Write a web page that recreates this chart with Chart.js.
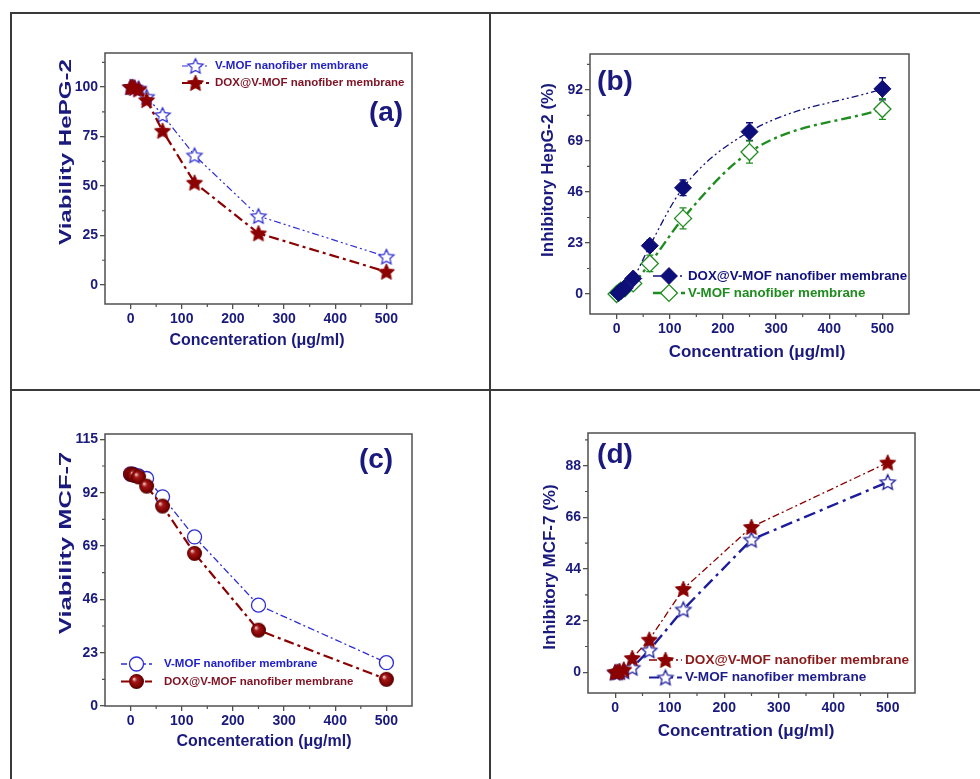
<!DOCTYPE html>
<html>
<head>
<meta charset="utf-8">
<title>Cytotoxicity of V-MOF nanofiber membranes</title>
<script src="https://cdn.jsdelivr.net/npm/chart.js@4.4.1/dist/chart.umd.min.js"></script>
<style>
  body { margin: 0; background: #fff; width: 980px; height: 779px; position: relative; overflow: hidden; }
  canvas.panel { position: absolute; }
  .rule { position: absolute; background: #3a3a3a; }
</style>
</head>
<body>
<canvas id="chartA" class="panel" width="480" height="378" style="left:10px;top:12px"></canvas>
<canvas id="chartB" class="panel" width="490" height="378" style="left:490px;top:12px"></canvas>
<canvas id="chartC" class="panel" width="480" height="389" style="left:10px;top:390px"></canvas>
<canvas id="chartD" class="panel" width="490" height="389" style="left:490px;top:390px"></canvas>

<div class="rule" style="left:10px;top:12px;width:970px;height:1.5px"></div>
<div class="rule" style="left:10px;top:12px;width:1.5px;height:767px"></div>
<div class="rule" style="left:489px;top:12px;width:1.5px;height:767px"></div>
<div class="rule" style="left:10px;top:389px;width:970px;height:1.5px"></div>

<script>
// concentrations (µg/ml) used for every assay
const conc = [0, 3.9, 7.8, 15.6, 31.25, 62.5, 125, 250, 500];

// (a) viability HepG-2
const viaHepVmof = [100, 100, 99.8, 99.3, 95.1, 85.9, 65.5, 34.8, 14.3];
const viaHepDox  = [100, 100, 99.6, 98.8, 93.4, 77.9, 51.7, 26.1, 6.7];

// (b) inhibition HepG-2 with error bars
const inhHepDox     = [null, 0.5, 1.2, 2.8, 7.0, 21.8, 47.9, 73.2, 92.5];
const inhHepDoxErr  = [0, 1.5, 1.5, 1.5, 1.5, 2.5, 3.5, 4.0, 5.0];
const inhHepVmof    = [0, 0.6, 1.5, 2.6, 4.8, 13.8, 34.1, 64.0, 83.4];
const inhHepVmofErr = [0, 1.0, 1.0, 1.0, 1.5, 3.7, 4.7, 5.0, 4.7];

// (c) viability MCF-7
const viaMcfVmof = [100, 100, 99.6, 99.2, 98.1, 90.2, 72.9, 43.5, 18.7];
const viaMcfDox  = [100, 99.8, 99.5, 98.8, 94.8, 86.2, 65.8, 32.7, 11.5];

// (d) inhibition MCF-7
const inhMcfDox  = [0, 0.2, 0.5, 1.2, 6.1, 13.9, 35.5, 61.9, 89.3];
const inhMcfVmof = [0, 0, 0.2, 0.5, 2.0, 9.4, 26.8, 56.5, 81.0];

// tick labels
const xTicks = [0, 100, 200, 300, 400, 500];
const xMinor = [50, 150, 250, 350, 450];
const yTicksA = [0, 25, 50, 75, 100];
const yMinorA = [12.5, 37.5, 62.5, 87.5, 112.5];
const yTicksB = [0, 23, 46, 69, 92];
const yMinorB = [11.5, 34.5, 57.5, 80.5, 103.5];
const yTicksC = [0, 23, 46, 69, 92, 115];
const yMinorC = [11.5, 34.5, 57.5, 80.5, 103.5];
const yTicksD = [0, 22, 44, 66, 88];
const yMinorD = [11, 33, 55, 77, 99];

const nameVmof = 'V-MOF nanofiber membrane';
const nameDox = 'DOX@V-MOF nanofiber membrane';

const FONT = '"Liberation Sans", Arial, Helvetica, sans-serif';
const NAVY = '#1a1a7e';
const BLUE = '#2d2dd2';
const DBLUE = '#1c1c9c';
const RED = '#8b0000';
const REDTXT = '#7e1224';
const GREEN = '#1f8c1f';
const FRAME = '#505050';

// five-pointed star marker rendered once into a small canvas
function starImage(R, fill, stroke, lw) {
  const size = Math.ceil(2 * R + lw + 2);
  const c = document.createElement('canvas');
  c.width = size; c.height = size;
  const g = c.getContext('2d');
  const cx = size / 2, cy = size / 2 + R * 0.08, r = R * 0.47;
  g.beginPath();
  for (let i = 0; i < 10; i++) {
    const rad = i % 2 ? r : R;
    const a = -Math.PI / 2 + i * Math.PI / 5;
    const px = cx + rad * Math.cos(a), py = cy + rad * Math.sin(a);
    i ? g.lineTo(px, py) : g.moveTo(px, py);
  }
  g.closePath();
  g.fillStyle = fill; g.fill();
  g.lineWidth = lw; g.strokeStyle = stroke; g.lineJoin = 'miter'; g.stroke();
  return c;
}

// shaded ball marker
function ballImage(R) {
  const size = Math.ceil(2 * R + 2);
  const c = document.createElement('canvas');
  c.width = size; c.height = size;
  const g = c.getContext('2d');
  const cx = size / 2, cy = size / 2;
  const grad = g.createRadialGradient(cx - R * 0.35, cy - R * 0.35, R * 0.05, cx, cy, R);
  grad.addColorStop(0, '#f0c8c8');
  grad.addColorStop(0.3, '#a31818');
  grad.addColorStop(0.8, '#7a0000');
  grad.addColorStop(1, '#4a0000');
  g.beginPath(); g.arc(cx, cy, R, 0, Math.PI * 2);
  g.fillStyle = grad; g.fill();
  return c;
}

const mkStarOpenBlue = { type: 'image', img: starImage(8, '#fff', BLUE, 1.2) };
const mkStarRed = { type: 'image', img: starImage(8.5, RED, RED, 1) };
const mkStarOpenNavy = { type: 'image', img: starImage(8, '#fff', DBLUE, 1.3) };
const mkBall = { type: 'image', img: ballImage(7.5) };
const mkCircleOpen = { type: 'circle', r: 7, fill: '#fff', stroke: BLUE, lw: 1.3 };
const mkDiamondNavy = { type: 'rectRot', r: 8.5, fill: '#0e0e78', stroke: '#0e0e78', lw: 1 };
const mkDiamondOpen = { type: 'rectRot', r: 8.5, fill: '#fff', stroke: GREEN, lw: 1.3 };

function pointOpts(m) {
  if (m.type === 'image') {
    return { pointStyle: m.img, pointRadius: m.img.width / 2 };
  }
  return {
    pointStyle: m.type, pointRadius: m.r,
    pointBackgroundColor: m.fill, pointBorderColor: m.stroke, pointBorderWidth: m.lw
  };
}

function drawMarker(ctx, m, x, y) {
  ctx.save();
  ctx.setLineDash([]);
  if (m.type === 'image') {
    ctx.drawImage(m.img, x - m.img.width / 2, y - m.img.height / 2);
  } else {
    ctx.beginPath();
    if (m.type === 'circle') {
      ctx.arc(x, y, m.r, 0, Math.PI * 2);
    } else {
      const d = m.r * Math.SQRT1_2 * 1.4;
      ctx.moveTo(x, y - d); ctx.lineTo(x + d, y); ctx.lineTo(x, y + d); ctx.lineTo(x - d, y);
      ctx.closePath();
    }
    ctx.fillStyle = m.fill; ctx.fill();
    ctx.lineWidth = m.lw; ctx.strokeStyle = m.stroke; ctx.stroke();
  }
  ctx.restore();
}

function series(label, ys, errs, color, width, dash, marker, smooth) {
  const data = [];
  conc.forEach((x, i) => { if (ys[i] !== null) data.push({ x: x, y: ys[i] }); });
  const errors = errs ? errs.filter((e, i) => ys[i] !== null) : null;
  return Object.assign({
    label: label,
    data: data,
    errors: errors,
    borderColor: color,
    borderWidth: width,
    borderDash: dash,
    fill: false,
    tension: smooth ? 0.4 : 0,
    cubicInterpolationMode: smooth ? 'monotone' : 'default'
  }, pointOpts(marker));
}

// frame, minor ticks, titles, panel tag and legend
const decor = {
  id: 'decor',
  beforeDatasetsDraw(chart) {
    const { ctx, scales } = chart;
    ctx.save();
    // error bars
    chart.data.datasets.forEach(ds => {
      if (!ds.errors) return;
      ctx.strokeStyle = ds.borderColor;
      ctx.lineWidth = 1.3;
      ctx.setLineDash([]);
      ds.data.forEach((p, i) => {
        const e = ds.errors[i];
        if (!e) return;
        const x = scales.x.getPixelForValue(p.x);
        const y1 = scales.y.getPixelForValue(p.y + e);
        const y2 = scales.y.getPixelForValue(p.y - e);
        ctx.beginPath();
        ctx.moveTo(x, y1); ctx.lineTo(x, y2);
        ctx.moveTo(x - 3.5, y1); ctx.lineTo(x + 3.5, y1);
        ctx.moveTo(x - 3.5, y2); ctx.lineTo(x + 3.5, y2);
        ctx.stroke();
      });
    });
    ctx.restore();
  },
  afterDraw(chart, args, o) {
    const { ctx, chartArea: a, scales } = chart;
    ctx.save();
    ctx.strokeStyle = FRAME;
    ctx.lineWidth = 1.5;
    ctx.strokeRect(a.left, a.top, a.right - a.left, a.bottom - a.top);
    ctx.lineWidth = 1.2;
    ctx.beginPath();
    o.xMinor.forEach(v => {
      const x = scales.x.getPixelForValue(v);
      ctx.moveTo(x, a.bottom); ctx.lineTo(x, a.bottom + 3);
    });
    o.yMinor.forEach(v => {
      const y = scales.y.getPixelForValue(v);
      if (y < a.top || y > a.bottom) return;
      ctx.moveTo(a.left, y); ctx.lineTo(a.left - 3, y);
    });
    ctx.stroke();

    // axis titles
    ctx.fillStyle = NAVY;
    ctx.textAlign = 'center';
    ctx.textBaseline = 'middle';
    ctx.font = 'bold ' + o.xTitle.size + 'px ' + FONT;
    ctx.fillText(o.xTitle.text, o.xTitle.x, o.xTitle.y);
    ctx.save();
    ctx.translate(o.yTitle.x, o.yTitle.y);
    ctx.rotate(-Math.PI / 2);
    ctx.scale(o.yTitle.stretch, 1);
    ctx.font = 'bold ' + o.yTitle.size + 'px ' + FONT;
    ctx.fillText(o.yTitle.text, 0, 0);
    ctx.restore();

    // panel tag
    ctx.font = 'bold 28px ' + FONT;
    ctx.fillText(o.tag.text, o.tag.x, o.tag.y);

    // legend
    const lg = o.legend;
    ctx.textAlign = 'left';
    ctx.font = 'bold ' + lg.size + 'px ' + FONT;
    lg.items.forEach((it, i) => {
      const y = lg.y + i * lg.gap;
      ctx.save();
      ctx.strokeStyle = it.color;
      ctx.lineWidth = it.width;
      ctx.setLineDash(it.dash);
      ctx.beginPath(); ctx.moveTo(lg.x0, y); ctx.lineTo(lg.x1, y); ctx.stroke();
      ctx.restore();
      drawMarker(ctx, it.marker, (lg.x0 + lg.x1) / 2, y);
      ctx.fillStyle = it.textColor;
      ctx.fillText(it.label, lg.tx, y);
    });
    ctx.restore();
  }
};

function axis(min, max, ticks) {
  return {
    type: 'linear',
    min: min, max: max,
    afterBuildTicks: s => { s.ticks = ticks.map(v => ({ value: v })); },
    grid: { drawOnChartArea: false, drawTicks: true, tickLength: 5, color: FRAME, lineWidth: 1.3 },
    border: { display: false },
    ticks: { color: NAVY, font: { family: FONT, size: 14, weight: 'bold' }, padding: 2 }
  };
}

function makeChart(id, datasets, xAx, yAx, pad, decorOpts) {
  xAx.afterFit = s => { s.height = 30; };
  yAx.afterFit = s => { s.width = 45; };
  new Chart(document.getElementById(id), {
    type: 'line',
    data: { datasets: datasets },
    options: {
      responsive: false,
      animation: false,
      layout: { padding: pad },
      plugins: { legend: { display: false }, tooltip: { enabled: false }, decor: decorOpts },
      scales: { x: xAx, y: yAx }
    },
    plugins: [decor]
  });
}

const dashThin = [7, 3, 2, 3, 2, 3];
const dashDot = [7, 3, 2, 3];
const dashBold = [10, 4, 3, 4];

// (a) — DOX listed first so its stars sit on top
makeChart('chartA', [
  series(nameDox, viaHepDox, null, RED, 2.2, dashBold, mkStarRed),
  series(nameVmof, viaHepVmof, null, BLUE, 1.2, dashThin, mkStarOpenBlue)
], axis(-50, 550, xTicks), axis(-9.6, 117.2, yTicksA),
{ left: 50, right: 78, top: 41, bottom: 56 },
{
  xMinor: xMinor, yMinor: yMinorA,
  xTitle: { text: 'Concenteration (μg/ml)', x: 247, y: 329, size: 16 },
  yTitle: { text: 'Viability HePG-2', x: 56, y: 140, size: 17, stretch: 1.42 },
  tag: { text: '(a)', x: 376, y: 101 },
  legend: {
    x0: 172, x1: 199, tx: 205, y: 54, gap: 17, size: 11.5,
    items: [
      { label: nameVmof, color: BLUE, width: 1.2, dash: [6, 3, 2, 3], marker: mkStarOpenBlue, textColor: '#2424c0' },
      { label: nameDox, color: RED, width: 2, dash: [8, 4], marker: mkStarRed, textColor: REDTXT }
    ]
  }
});

// (b)
makeChart('chartB', [
  series(nameDox, inhHepDox, inhHepDoxErr, '#10107e', 1.3, dashThin, mkDiamondNavy, true),
  series(nameVmof, inhHepVmof, inhHepVmofErr, GREEN, 2.4, dashBold, mkDiamondOpen, true)
], axis(-50, 550, xTicks), axis(-9, 108.2, yTicksB),
{ left: 55, right: 71, top: 42, bottom: 46 },
{
  xMinor: xMinor, yMinor: yMinorB,
  xTitle: { text: 'Concentration (μg/ml)', x: 267, y: 340, size: 17 },
  yTitle: { text: 'Inhibitory HepG-2 (%)', x: 58, y: 158, size: 17, stretch: 1 },
  tag: { text: '(b)', x: 125, y: 70 },
  legend: {
    x0: 163, x1: 195, tx: 198, y: 264, gap: 17, size: 13.3,
    items: [
      { label: nameDox, color: '#10107e', width: 1.3, dash: [8, 3, 2, 3], marker: mkDiamondNavy, textColor: '#10107e' },
      { label: nameVmof, color: GREEN, width: 2.4, dash: [10, 4], marker: mkDiamondOpen, textColor: GREEN }
    ]
  }
});

// (c) — DOX listed first so its balls sit on top
makeChart('chartC', [
  series(nameDox, viaMcfDox, null, RED, 2.2, dashBold, mkBall),
  series(nameVmof, viaMcfVmof, null, BLUE, 1.3, dashDot, mkCircleOpen)
], axis(-50, 550, xTicks), axis(0, 117.3, yTicksC),
{ left: 50, right: 78, top: 44, bottom: 43 },
{
  xMinor: xMinor, yMinor: yMinorC,
  xTitle: { text: 'Concenteration (μg/ml)', x: 254, y: 352, size: 16 },
  yTitle: { text: 'Viability MCF-7', x: 56, y: 153, size: 17, stretch: 1.5 },
  tag: { text: '(c)', x: 366, y: 70 },
  legend: {
    x0: 111, x1: 142, tx: 154, y: 274, gap: 17.5, size: 11.5,
    items: [
      { label: nameVmof, color: BLUE, width: 1.3, dash: [6, 3, 2, 3], marker: mkCircleOpen, textColor: '#2020c8' },
      { label: nameDox, color: RED, width: 2, dash: [8, 4], marker: mkBall, textColor: REDTXT }
    ]
  }
});

// (d)
makeChart('chartD', [
  series(nameDox, inhMcfDox, null, RED, 1.3, dashDot, mkStarRed),
  series(nameVmof, inhMcfVmof, null, DBLUE, 2.4, [12, 5, 3, 5], mkStarOpenNavy)
], axis(-50, 550, xTicks), axis(-8.8, 101.9, yTicksD),
{ left: 53, right: 65, top: 43, bottom: 56 },
{
  xMinor: xMinor, yMinor: yMinorD,
  xTitle: { text: 'Concentration (μg/ml)', x: 256, y: 341, size: 17 },
  yTitle: { text: 'Inhibitory MCF-7 (%)', x: 60, y: 177, size: 17, stretch: 1 },
  tag: { text: '(d)', x: 125, y: 65 },
  legend: {
    x0: 159, x1: 192, tx: 195, y: 270, gap: 17.5, size: 13.6,
    items: [
      { label: nameDox, color: RED, width: 1.3, dash: [8, 3, 2, 3], marker: mkStarRed, textColor: '#8b1a1a' },
      { label: nameVmof, color: DBLUE, width: 2.2, dash: [10, 4], marker: mkStarOpenNavy, textColor: '#1c1c8c' }
    ]
  }
});
</script>
</body>
</html>
